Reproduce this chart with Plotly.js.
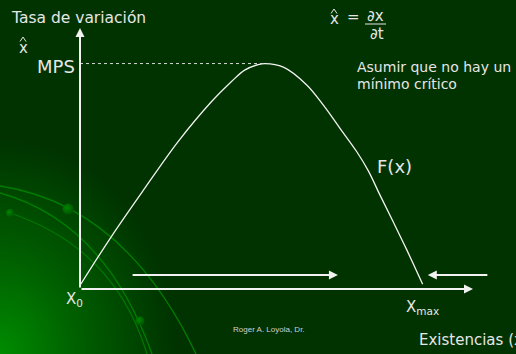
<!DOCTYPE html>
<html>
<head>
<meta charset="utf-8">
<script src="https://cdn.plot.ly/plotly-3.0.1.min.js"></script>
<style>html,body{margin:0;padding:0;background:#003300;}#chart{width:516px;height:354px;}</style>
</head>
<body>
<div id="chart"></div>
<script>
// Stock (x) as % of Xmax, and growth rate F(x) as % of MPS
const stockX = [0.2, 9.1, 18.9, 28.6, 38.3, 44.1, 48.0, 51.9, 53.9, 59.3, 66.1, 70.9, 75.8, 80.7, 84.1, 87.5, 91.3, 95.2, 99.9];
const rateY  = [2.1, 23.2, 44.8, 65.5, 83.2, 92.1, 97.3, 99.7, 100.2, 98.6, 90.7, 81.8, 71.4, 61.0, 52.4, 41.6, 29.9, 17.6, 2.1];
const mpsStock = 53.9;   // stock at the MPS peak
const mpsRate = 100.2;
// arrows showing direction of stock change
const arrowRightFrom = 14.9, arrowRightTo = 75.2, arrowLevel = 6.2;
const arrowLeftFrom = 119.2, arrowLeftTo = 101.4;

const W = 516, H = 354, L = 80, R = 43, T = 28, B = 65;
const pw = W - L - R, ph = H - T - B;
const px = x => (x - L) / pw;
const py = y => (H - B - y) / ph;
const FONT = 'DejaVu Sans, Verdana, sans-serif';
const TXT = '#e6e6e6';
const LINE = '#f2f2f2';

function txt(text, x, y, size, xanchor, extra) {
  return Object.assign({
    text: text, xref: 'paper', yref: 'paper', x: px(x), y: py(y),
    xanchor: xanchor || 'left', yanchor: 'middle', showarrow: false,
    font: {family: FONT, size: size, color: TXT}
  }, extra || {});
}
function arrow(x, y, ax, ay) {
  return {xref: 'x', yref: 'y', axref: 'x', ayref: 'y', x: x, y: y, ax: ax, ay: ay,
    text: '', showarrow: true, arrowhead: 2, arrowsize: 0.9, arrowwidth: 2,
    arrowcolor: LINE, standoff: 0, startstandoff: 0};
}
function hat(cx, top, bottom, half) {
  return {type: 'path', xref: 'paper', yref: 'paper',
    path: `M${px(cx - half)},${py(bottom)} L${px(cx)},${py(top)} L${px(cx + half)},${py(bottom)}`,
    line: {color: TXT, width: 1}};
}

const bgSvg = `<svg xmlns="http://www.w3.org/2000/svg" width="516" height="354" viewBox="0 0 516 354">
<defs>
<radialGradient id="g" gradientUnits="userSpaceOnUse" cx="0" cy="0" r="1" gradientTransform="translate(0,354) scale(175,215)">
<stop offset="0" stop-color="rgb(0,140,0)"/>
<stop offset="0.45" stop-color="rgb(0,95,0)"/>
<stop offset="1" stop-color="rgb(0,51,0)"/>
</radialGradient>
<radialGradient id="d" cx="0.4" cy="0.4" r="0.6">
<stop offset="0" stop-color="rgb(0,135,0)"/>
<stop offset="1" stop-color="rgb(0,85,0)"/>
</radialGradient>
</defs>
<rect width="516" height="354" fill="url(#g)"/>
<path d="M0,186 Q125,205 196,354" stroke="rgb(0,125,0)" stroke-width="1.3" fill="none"/>
<path d="M0,193 Q105,222 152,354" stroke="rgb(0,125,0)" stroke-width="1.3" fill="none"/>
<path d="M10,213 Q115,248 147,354" stroke="rgb(0,120,0)" stroke-width="1.2" fill="none"/>
<circle cx="68" cy="209" r="5.5" fill="url(#d)"/>
<circle cx="10" cy="213" r="4" fill="url(#d)"/>
<circle cx="140" cy="321" r="4.5" fill="url(#d)"/>
</svg>`;

const xRange = [0, pw / 3.43];
const yRange = [0, ph / 2.25];

const traces = [{
  type: 'scatter', mode: 'lines', x: stockX, y: rateY,
  line: {color: LINE, width: 1.3, shape: 'spline', smoothing: 1},
  hoverinfo: 'skip', cliponaxis: false
}];

const layout = {
  width: W, height: H,
  margin: {l: L, r: R, t: T, b: B, pad: 0},
  paper_bgcolor: '#003300', plot_bgcolor: 'rgba(0,0,0,0)',
  showlegend: false,
  xaxis: {range: xRange, visible: false, fixedrange: true},
  yaxis: {range: yRange, visible: false, fixedrange: true},
  images: [{
    source: 'data:image/svg+xml;charset=utf-8,' + encodeURIComponent(bgSvg),
    xref: 'paper', yref: 'paper', x: px(0), y: py(0), sizex: W / pw, sizey: H / ph,
    xanchor: 'left', yanchor: 'top', sizing: 'stretch', layer: 'below'
  }],
  shapes: [
    {type: 'line', xref: 'x', yref: 'y', x0: 0, x1: mpsStock, y0: mpsRate, y1: mpsRate,
     line: {color: '#d8d8d8', width: 1, dash: 'dot'}},
    {type: 'line', xref: 'paper', yref: 'paper', x0: px(365), x1: px(386), y0: py(24), y1: py(24),
     line: {color: TXT, width: 1}},
    hat(23, 37, 41.5, 3),
    hat(334, 9, 13.5, 3)
  ],
  annotations: [
    arrow(xRange[1], 0, 0, 0),
    arrow(0, yRange[1], 0, 0),
    arrow(arrowRightTo, arrowLevel, arrowRightFrom, arrowLevel),
    arrow(arrowLeftTo, arrowLevel, arrowLeftFrom, arrowLevel),
    txt('Tasa de variación', 9, 18, 15.5),
    txt('x', 23, 48, 15, 'center'),
    txt('MPS', 77, 66, 18, 'right'),
    txt('x', 334, 19, 15, 'center'),
    txt('=', 353, 17, 15, 'center'),
    txt('∂x', 375.5, 16, 15, 'center'),
    txt('∂t', 377, 34, 15, 'center'),
    txt('Asumir que no hay un', 355, 67, 14),
    txt('mínimo crítico', 355, 84, 14),
    txt('F(x)', 375, 166, 18),
    txt('X<sub>0</sub>', 64, 299, 15),
    txt('X<sub>max</sub>', 404, 307, 15),
    txt('Roger A. Loyola, Dr.', 231, 329, 8, 'left', {font: {family: 'Liberation Sans, Arial, sans-serif', size: 8, color: '#d0d0d0'}}),
    txt('Existencias (x)', 417, 340, 15)
  ]
};

Plotly.newPlot('chart', traces, layout, {staticPlot: true, displayModeBar: false});
</script>
</body>
</html>
